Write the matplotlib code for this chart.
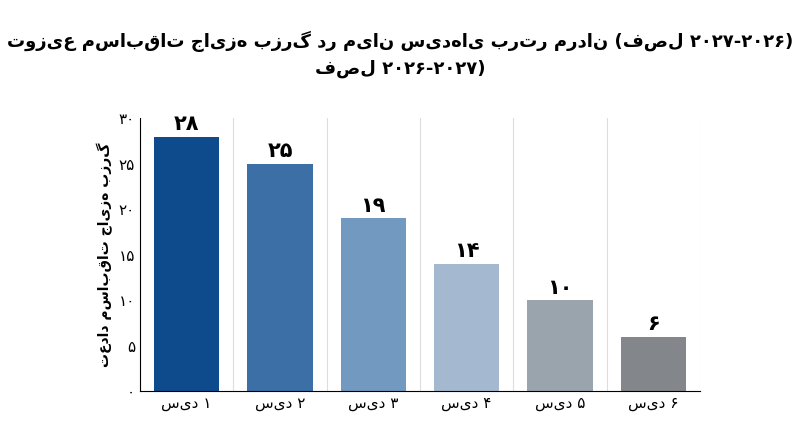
import matplotlib
matplotlib.use("Agg")
import matplotlib.pyplot as plt

categories = ["سید ۱", "سید ۲", "سید ۳", "سید ۴", "سید ۵", "سید ۶"]
values = [28, 25, 19, 14, 10, 6]
value_labels = ["۲۸", "۲۵", "۱۹", "۱۴", "۱۰", "۶"]
yticks = [0, 5, 10, 15, 20, 25, 30]
ytick_labels = ["۰", "۵", "۱۰", "۱۵", "۲۰", "۲۵", "۳۰"]
colors = ["#0d4b8c", "#3b6fa5", "#7299bf", "#a4b9d0", "#9aa4ad", "#83878b"]

plt.rcParams['font.family'] = ['DejaVu Sans']
fig = plt.figure(figsize=(8, 4.47), dpi=100)
ax = fig.add_axes([0.175, 0.125, 0.70, 0.61])
x = range(len(categories))
ax.bar(x, values, width=0.7, color=colors, zorder=2)
for i, (v, t) in enumerate(zip(values, value_labels)):
    ax.text(i, v + 0.3, t, ha='center', va='bottom', fontsize=15, fontweight='bold')
ax.set_xticks(list(x))
ax.set_xticklabels(categories, fontsize=11)
ax.set_yticks(yticks)
ax.set_yticklabels(ytick_labels, fontsize=11)
ax.set_ylim(0, 30)
ax.set_xlim(-0.5, 5.5)
ax.set_xticks([i + 0.5 for i in range(-1, 6)], minor=True)
ax.grid(False)
ax.grid(which='minor', axis='x', color='#dddddd', zorder=0)
for s in ['top', 'right']:
    ax.spines[s].set_visible(False)
ax.tick_params(which='both', length=0)
ax.set_ylabel("تعداد مسابقات جایزه بزرگ", fontsize=10, fontweight='bold')
fig.text(0.5, 0.93, "توزیع مسابقات جایزه بزرگ در میان سیدهای برتر مردان (فصل ۲۰۲۷-۲۰۲۶)\nفصل ۲۰۲۶-۲۰۲۷)",
         ha='center', va='top', fontsize=13, fontweight='bold', linespacing=1.5)
fig.savefig("out.png", dpi=100, facecolor='white')
